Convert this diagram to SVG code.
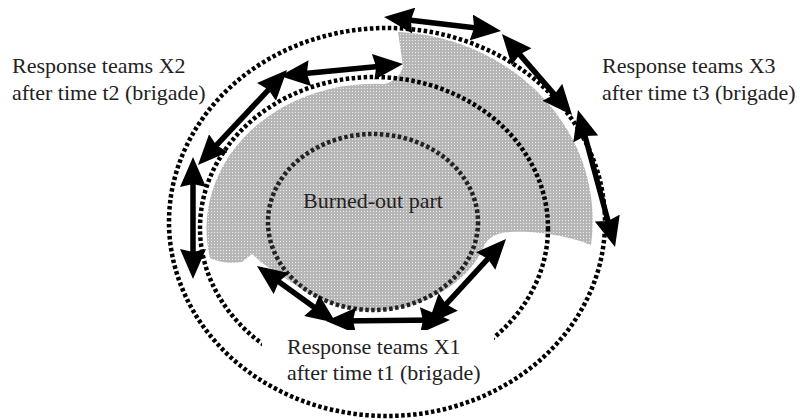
<svg xmlns="http://www.w3.org/2000/svg" width="800" height="420" viewBox="0 0 800 420">
<style>
.lbl{font-family:"Liberation Serif","Times New Roman",serif;font-size:22px;fill:#222}
.dot{fill:none;stroke:#000;stroke-width:4.5;stroke-dasharray:3.5 2.5}
.dotin{fill:none;stroke:#222;stroke-width:4.5;stroke-dasharray:3.5 2.5}
.arr{fill:none;stroke:#000;stroke-width:5.5;marker-start:url(#ah);marker-end:url(#ah)}
</style>
<defs>
<pattern id="tex" width="3" height="3" patternUnits="userSpaceOnUse">
<rect width="3" height="3" fill="#b6b6b6"/>
<rect x="1" y="1" width="1" height="1" fill="#eeeeee"/>
</pattern>
<marker id="ah" viewBox="0 0 30 26" refX="18" refY="13" markerWidth="30" markerHeight="26" markerUnits="userSpaceOnUse" orient="auto-start-reverse">
<path d="M0,0 L30,13 L0,26 L3,13 Z" fill="#000"/>
</marker>
</defs>
<rect width="800" height="420" fill="#fff"/>
<g id="burned-area">
<path d="M385,84 Q400,79 403,66 L398,32 A206 189 0 0 1 591,245 C575,238 540,230 510,232 C495,233 488,238 484,246 C470,280 430,308 375,311 C345,311 320,300 300,288 L262,263 L252,254 L242,262 C230,264 218,262 210,258 A168 145 0 0 1 385,84 Z" fill="url(#tex)"/>
</g>
<g id="zones">
<ellipse id="zone-middle" class="dot" cx="374" cy="228" rx="174" ry="151"/>
<ellipse id="zone-inner" class="dotin" cx="373" cy="222" rx="105" ry="88"/>
</g>
<g id="connectors">
<line class="arr" x1="291.9" y1="74.8" x2="391.1" y2="65.2"/>
<line class="arr" x1="206.2" y1="156.2" x2="278.8" y2="78.8"/>
<line class="arr" x1="193" y1="169" x2="193" y2="267"/>
<line class="arr" x1="395.9" y1="18.4" x2="489.1" y2="29.6"/>
<line class="arr" x1="509.8" y1="43.1" x2="564.2" y2="105.9"/>
<line class="arr" x1="581.1" y1="121.6" x2="611.9" y2="235.4"/>
<line class="arr" x1="266.7" y1="273" x2="326.3" y2="316"/>
<line class="arr" x1="338" y1="320.9" x2="438" y2="320.1"/>
<line class="arr" x1="436.1" y1="315.2" x2="497.9" y2="247.8"/>
</g>
<g id="label-x1-bg">
<rect x="262" y="330" width="232" height="58" fill="#fff"/>
</g>
<ellipse id="zone-outer" class="dot" cx="387" cy="222" rx="218" ry="194"/>
<g id="label-burned">
<text class="lbl" x="303" y="208">Burned-out part</text>
</g>
<g id="label-x1">
<text class="lbl" x="287" y="354">Response teams X1</text>
<text class="lbl" x="287" y="380">after time t1 (brigade)</text>
</g>
<g id="label-x2">
<text class="lbl" x="12" y="73">Response teams X2</text>
<text class="lbl" x="12" y="100">after time t2 (brigade)</text>
</g>
<g id="label-x3">
<text class="lbl" x="602" y="73">Response teams X3</text>
<text class="lbl" x="602" y="100">after time t3 (brigade)</text>
</g>
</svg>
